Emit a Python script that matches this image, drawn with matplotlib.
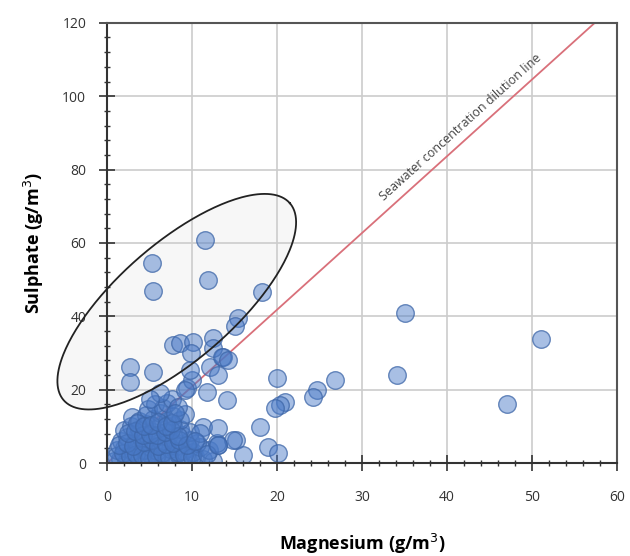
import numpy as np
import matplotlib.pyplot as plt

plt.rcParams['font.family'] = ['Open Sans', 'DejaVu Sans']

# magnesium vs sulphate, g/m3
magnesium = [
    # low-concentration cluster
    0.8, 1.5, 2.2, 3.0, 3.8, 4.6, 5.4, 6.2, 7.0, 7.8, 8.6, 9.5, 10.4, 11.3, 12.5, 2.6, 5.0, 8.2,
    1.2, 2.0, 2.9, 3.6, 4.3, 5.1, 5.9, 6.6, 7.4, 8.1, 8.9, 9.7, 10.1, 10.9, 12.0, 13.1,
    1.6, 2.4, 3.2, 4.0, 4.8, 5.6, 6.4, 7.2, 8.0, 8.8, 9.8, 10.6, 12.9, 3.6,
    2.0, 2.8, 3.8, 4.6, 5.4, 6.2, 7.0, 7.8, 8.6, 9.8, 11.3, 13.1, 10.9,
    2.9, 3.8, 4.6, 5.4, 6.2, 7.0, 7.8, 8.6, 9.2,
    4.8, 5.6, 6.6, 7.0, 7.6, 8.4, 6.2, 5.0,
    1.0, 1.9, 2.7, 3.4, 4.1, 4.9, 5.7, 6.5, 7.3, 8.4, 9.1, 10.0, 11.8,
    1.4, 2.3, 3.1, 4.4, 5.3, 6.0, 6.9, 7.7, 8.5, 9.4, 10.3,
    2.5, 3.3, 4.2, 5.1, 5.9, 6.8, 7.5, 8.3,
    3.5, 4.4, 5.2, 6.0, 6.9, 7.6, 8.0,
    # along the dilution line
    9.4, 10.0, 11.8, 9.2, 9.8, 12.1, 13.6, 13.0, 14.1,
    # ellipse group
    11.5, 5.3, 5.4, 11.9, 18.2, 15.4, 15.0,
    7.8, 8.6, 10.1, 9.9, 12.5, 12.5, 13.5, 14.2,
    2.7, 2.7, 5.4,
    # scattered higher magnesium
    15.2, 16.0, 18.9, 20.1, 18.0, 14.8, 13.1,
    20.0, 24.7, 24.2, 26.8, 20.9, 20.4, 19.8,
    35.1, 51.1, 34.1, 47.1,
]
sulphate = [
    0.5, 1.2, 0.3, 1.5, 0.8, 1.8, 0.2, 1.0, 2.2, 0.6, 1.5, 0.8, 2.0, 1.2, 0.5, 2.4, 2.6, 2.8,
    3.5, 4.2, 3.2, 4.8, 3.6, 4.4, 3.2, 4.9, 3.8, 4.6, 3.4, 4.2, 3.0, 4.4, 3.6, 4.9,
    6.0, 7.2, 5.6, 6.8, 5.4, 7.4, 6.0, 7.0, 5.8, 7.6, 6.3, 5.4, 5.5, 8.0,
    9.0, 10.2, 9.4, 10.6, 8.6, 9.8, 8.4, 10.4, 9.2, 8.5, 9.8, 9.5, 8.2,
    12.5, 11.6, 13.0, 12.0, 13.6, 11.4, 12.8, 11.8, 13.4,
    14.8, 16.2, 15.0, 16.3, 17.6, 15.4, 19.0, 17.4,
    2.0, 2.8, 1.9, 2.6, 2.2, 1.4, 2.0, 2.9, 1.6, 3.0, 2.2, 1.7, 2.5,
    5.0, 5.4, 4.6, 5.8, 6.2, 4.8, 5.2, 5.6, 6.4, 5.0, 6.0,
    8.2, 8.8, 7.8, 8.0, 7.6, 8.6, 9.0, 7.4,
    11.0, 10.0, 10.4, 11.2, 10.0, 11.0, 13.8,
    20.5, 22.6, 19.4, 19.9, 25.4, 26.2, 28.9, 24.0, 17.2,
    60.8, 54.5, 46.9, 49.9, 46.6, 39.5, 37.5,
    32.2, 32.7, 33.0, 30.0, 34.1, 31.4, 28.9, 28.1,
    26.2, 22.1, 24.8,
    6.3, 2.2, 4.4, 2.7, 9.8, 6.3, 4.9,
    23.2, 19.9, 18.0, 22.6, 16.6, 15.8, 15.0,
    40.9, 33.8, 24.0, 16.1,
]

# seawater SO4/Mg ratio
seawater_ratio = 2.09
dilution_mg = [0.0, 57.4]

fig = plt.figure(figsize=(6.3, 5.56), dpi=100)
ax = fig.add_axes([0.170, 0.167, 0.809, 0.792])

ax.set_xlim(0, 60)
ax.set_ylim(0, 120)
ax.set_axisbelow(True)
ax.grid(True, which='major', color='#cccccc', lw=1.2, zorder=0.5)

# ellipse drawn in screen-like units so it keeps its tilt
sx, sy = 8.5, 3.667
t = np.linspace(0, 2 * np.pi, 300)
theta = np.radians(41)
a, b = 150, 58
cu, cv = 8.2 * sx, 44.0 * sy
u = cu + a * np.cos(theta) * np.cos(t) - b * np.sin(theta) * np.sin(t)
v = cv + a * np.sin(theta) * np.cos(t) + b * np.cos(theta) * np.sin(t)
ex, ey = u / sx, v / sy
ax.fill(ex, ey, facecolor='black', alpha=0.03, edgecolor='none',
        zorder=0.1, clip_on=False)
ax.plot(ex, ey, color='#222222', lw=1.3, zorder=4, clip_on=False)

# dilution line
ax.plot(dilution_mg, [m * seawater_ratio for m in dilution_mg],
        color='#d9707a', lw=1.3, zorder=1.5)
ax.text(41.6, 91.5, 'Seawater concentration dilution line', rotation=42,
        rotation_mode='anchor', ha='center', va='center',
        fontsize=9, color='#444444')

ax.scatter(magnesium, sulphate, s=160, facecolor=(0.29, 0.48, 0.78, 0.48),
           edgecolor=(0.24, 0.40, 0.66, 0.75), linewidth=1.0, zorder=2)

ax.set_xticks(range(0, 61, 10))
ax.set_xticks(range(0, 61, 2), minor=True)
ax.set_yticks(range(0, 121, 20))
ax.set_yticks(range(0, 121, 4), minor=True)
ax.tick_params(which='major', direction='inout', length=12, width=1.2,
               color='#333333', labelsize=10, labelcolor='#333333')
ax.tick_params(which='minor', direction='inout', length=5, width=1.0,
               color='#333333')
ax.tick_params(axis='x', which='major', pad=13)
ax.tick_params(axis='y', which='major', pad=9)

for side in ['left', 'bottom']:
    ax.spines[side].set_color('#333333')
    ax.spines[side].set_linewidth(1.5)
for side in ['top', 'right']:
    ax.spines[side].set_color('#555555')
    ax.spines[side].set_linewidth(1.5)

ax.set_xlabel('Magnesium (g/m$^3$)', fontsize=13, fontweight='bold', labelpad=20)
ax.set_ylabel('Sulphate (g/m$^3$)', fontsize=13, fontweight='bold', labelpad=12)

fig.savefig('out.png', dpi=100)
